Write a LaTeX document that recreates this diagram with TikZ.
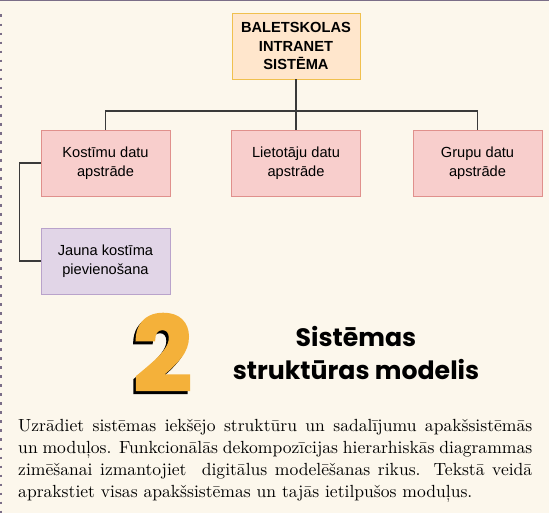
\documentclass[tikz,border=0pt]{standalone}
\usepackage{fontspec}
\newfontfamily\boxfont{Liberation Sans}
\newfontfamily\headfont{Poppins}
\newfontfamily\numfont{Poppins Bold}[FakeBold=2.5]
\newfontfamily\bodyfont{lmroman10-regular}[Extension=.otf]
\usetikzlibrary{positioning}

\definecolor{paper}{HTML}{FCF7EC}
\definecolor{rootfill}{HTML}{FFE6CC}
\definecolor{rootdraw}{HTML}{F0C04E}
\definecolor{modfill}{HTML}{F8CECC}
\definecolor{moddraw}{HTML}{E0908C}
\definecolor{subfill}{HTML}{E1D5E7}
\definecolor{subdraw}{HTML}{B9A3CB}
\definecolor{linkgray}{HTML}{3A3A3A}
\definecolor{numorange}{HTML}{F4B13A}
\definecolor{framegray}{HTML}{7B6E88}

\begin{document}
\begin{tikzpicture}[
  x=0.03cm, y=-0.03cm,
  rootbox/.style={draw=rootdraw, line width=0.8pt, fill=rootfill, align=center,
                  minimum width=3.84cm, minimum height=1.98cm, inner sep=0pt,
                  font=\boxfont\bfseries\fontsize{12.5}{16}\selectfont},
  modbox/.style={draw=moddraw, line width=0.8pt, fill=modfill, align=center,
                 minimum width=3.87cm, minimum height=1.98cm, inner sep=0pt,
                 font=\boxfont\fontsize{12.5}{16}\selectfont},
  subbox/.style={modbox, draw=subdraw, fill=subfill},
  link/.style={draw=linkgray, line width=1.1pt},
  bignum/.style={inner sep=0pt, font=\numfont\fontsize{88}{88}\selectfont},
  headline/.style={align=center, inner sep=0pt, font=\headfont\bfseries\fontsize{21.5}{28}\selectfont},
  bodytext/.style={align=justify, text width=15.42cm, inner sep=0pt,
                   font=\bodyfont\fontsize{15}{18.6}\selectfont}
]
% page and frame
\fill[paper] (0,0) rectangle (549,513);
\useasboundingbox (0,0) rectangle (549,513);
\draw[framegray, line width=1.3pt] (0,0.7) -- (549,0.7);
\draw[framegray, line width=1.8pt, dash pattern=on 2.4pt off 5.3pt] (1.2,14.5) -- (1.2,513);

% hierarchy
\node[rootbox] (root) at (296,46) {BALETSKOLAS\\INTRANET\\SISTĒMA};
\node[modbox] (kost) at (105.5,163) {Kostīmu datu\\apstrāde};
\node[modbox] (liet) at (296,163) {Lietotāju datu\\apstrāde};
\node[modbox] (grup) at (477.5,163) {Grupu datu\\apstrāde};
\node[subbox] (jaun) at (105.5,261) {Jauna kostīma\\pievienošana};
\coordinate (fork) at (296,111);
\draw[link] (root) -- (fork);
\draw[link] (fork) -| (kost);
\draw[link] (fork) -- (liet);
\draw[link] (fork) -| (grup);
\draw[link] (kost.west) -- ++(-21,0) |- (jaun.west);

% heading
\node[bignum] (num) at (162.5,354)
  {\makebox[0pt][l]{\hspace{-2.1pt}\raisebox{-2.6pt}{\color{black}2}}\color{numorange}2};
\node[headline] (head) at (356,353) {Sistēmas\\struktūras modelis};

% description
\node[bodytext, anchor=base west] (desc) at (18,432) {Uzrādiet sistēmas iekšējo struktūru un sadalījumu apakšsistēmās\linebreak
un moduļos. Funkcionālās dekompozīcijas hierarhiskās diagrammas\linebreak
zimēšanai izmantojiet\ \ digitālus modelēšanas rikus. Tekstā veidā\linebreak
aprakstiet visas apakšsistēmas un tajās ietilpušos moduļus.};
\end{tikzpicture}
\end{document}
